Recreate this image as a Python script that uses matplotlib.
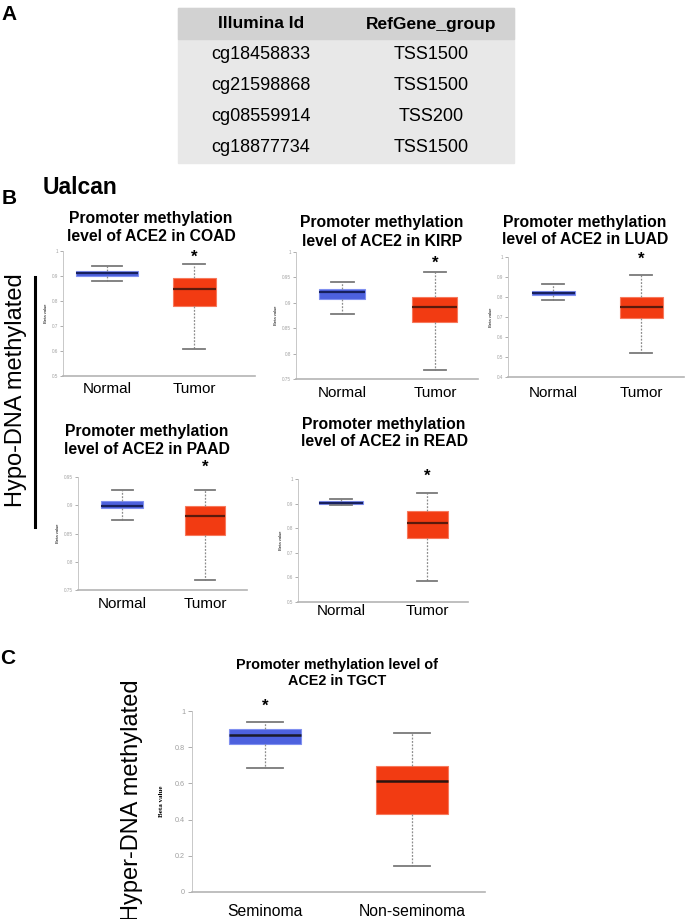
import matplotlib
matplotlib.use("Agg")
import matplotlib.pyplot as plt
from matplotlib.patches import Rectangle
from matplotlib.lines import Line2D

plt.rcParams['font.family'] = ['Liberation Sans', 'DejaVu Sans']

# table (panel A)
table_header = ["Illumina Id", "RefGene_group"]
illumina_ids = ["cg18458833", "cg21598868", "cg08559914", "cg18877734"]
refgene_groups = ["TSS1500", "TSS1500", "TSS200", "TSS1500"]

# panel B, box stats as [whislo, q1, med, q3, whishi]
cancers = ["COAD", "KIRP", "LUAD", "PAAD", "READ"]
normal_stats = [
    [0.880, 0.902, 0.912, 0.922, 0.940],
    [0.878, 0.908, 0.922, 0.928, 0.940],
    [0.786, 0.808, 0.818, 0.830, 0.863],
    [0.874, 0.896, 0.899, 0.908, 0.927],
    [0.893, 0.898, 0.904, 0.910, 0.918],
]
tumor_stats = [
    [0.608, 0.780, 0.847, 0.891, 0.950],
    [0.768, 0.862, 0.891, 0.912, 0.960],
    [0.518, 0.696, 0.752, 0.798, 0.908],
    [0.767, 0.847, 0.881, 0.899, 0.927],
    [0.584, 0.760, 0.823, 0.871, 0.944],
]
star_y = [0.973, 0.978, 0.990, 0.968, 1.012]
y_limits = [(0.5, 1.0), (0.75, 1.0), (0.4, 1.0), (0.75, 0.95), (0.5, 1.0)]
y_ticks = [
    [0.5, 0.6, 0.7, 0.8, 0.9, 1.0],
    [0.75, 0.8, 0.85, 0.9, 0.95, 1.0],
    [0.4, 0.5, 0.6, 0.7, 0.8, 0.9, 1.0],
    [0.75, 0.8, 0.85, 0.9, 0.95],
    [0.5, 0.6, 0.7, 0.8, 0.9, 1.0],
]
b_groups = ["Normal", "Tumor"]

# panel C
tgct_groups = ["Seminoma", "Non-seminoma"]
tgct_stats = [
    [0.687, 0.816, 0.869, 0.898, 0.940],
    [0.145, 0.431, 0.613, 0.698, 0.878],
]
tgct_star_y = 1.028
tgct_ticks = [0, 0.2, 0.4, 0.6, 0.8, 1.0]

W, H = 685, 919
fig = plt.figure(figsize=(W / 100, H / 100), dpi=100)


def rect(l, t, r, b):
    return [l / W, 1 - b / H, (r - l) / W, (b - t) / H]


def fx(x):
    return x / W


def fy(y):
    return 1 - y / H


BLUE, BLUE_E, BLUE_M = '#4d61de', '#8090f0', '#17205e'
RED, RED_E, RED_M = '#f23b12', '#f7795c', '#5a1a0c'

# ---- panel A
fig.text(fx(9), fy(15), "A", fontsize=15, fontweight='bold', ha='center', va='center')
tx0, tx1, ty0, tyh, ty1 = 178, 514, 8, 39, 163
fig.patches.append(Rectangle((fx(tx0), fy(ty1)), fx(tx1 - tx0), (ty1 - ty0) / H,
                             transform=fig.transFigure, color='#e8e8e8', zorder=0))
fig.patches.append(Rectangle((fx(tx0), fy(tyh)), fx(tx1 - tx0), (tyh - ty0) / H,
                             transform=fig.transFigure, color='#d2d2d2', zorder=0))
col_x = [261, 431]
for cx, name in zip(col_x, table_header):
    fig.text(fx(cx), fy(24), name, fontsize=12.5, fontweight='bold', ha='center', va='center')
row_h = (ty1 - tyh) / len(illumina_ids)
for i, (cid, grp) in enumerate(zip(illumina_ids, refgene_groups)):
    yc = tyh + row_h * (i + 0.5)
    fig.text(fx(col_x[0]), fy(yc), cid, fontsize=13, ha='center', va='center')
    fig.text(fx(col_x[1]), fy(yc), grp, fontsize=13, ha='center', va='center')

# ---- panel B
fig.text(fx(9), fy(198), "B", fontsize=15, fontweight='bold', ha='center', va='center')
fig.text(fx(43), fy(187), "Ualcan", fontsize=16.5, fontweight='bold', ha='left', va='center')

# layout in pixels: axes (l, t, r, b), box centres, box widths, title centre, label pad
b_layout = [
    dict(ax=(63, 251, 255, 376), pos=(107, 194), w=(61, 43), title=(151, 227), pad=4.5),
    dict(ax=(296, 252, 478, 379), pos=(342, 435), w=(46, 45), title=(382, 232), pad=5),
    dict(ax=(508, 257, 684, 377), pos=(553, 641), w=(43, 43), title=(585, 231), pad=6.5),
    dict(ax=(78, 477, 247, 590), pos=(122, 205), w=(42, 40), title=(147, 440), pad=5),
    dict(ax=(298, 479, 468, 602), pos=(341, 427), w=(44, 41), title=(384, 433), pad=1.5),
]


def draw_box(ax, stats, lay, colors, tick_fs, star, star_idx, label_fs, med_lw):
    l, t, r, b = lay['ax']
    p1, p2 = lay['pos']
    unit = p2 - p1
    ax.set_xlim(1 - (p1 - l) / unit, 2 + (r - p2) / unit)
    widths = [w / unit for w in lay['w']]
    bstats = []
    for s, lab in zip(stats, lay['labels']):
        bstats.append(dict(whislo=s[0], q1=s[1], med=s[2], q3=s[3], whishi=s[4], label=lab))
    res = ax.bxp(bstats, positions=[1, 2], widths=widths, capwidths=[w * 0.5 for w in widths],
                 patch_artist=True, showfliers=False,
                 whiskerprops=dict(color='#8c8c8c', lw=0.9, linestyle=(0, (1.5, 1.2))),
                 capprops=dict(color='#7a7a7a', lw=1.3))
    for patch, med, (fc, ec, mc) in zip(res['boxes'], res['medians'], colors):
        patch.set_facecolor(fc)
        patch.set_edgecolor(ec)
        patch.set_linewidth(0.8)
        med.set_color(mc)
        med.set_linewidth(med_lw)
    ax.annotate("*", xy=(star_idx, star), ha='center', va='center', fontsize=12,
                fontweight='bold', annotation_clip=False)
    for sp in ['top', 'right']:
        ax.spines[sp].set_visible(False)
    ax.spines['left'].set_color('#c8c8c8')
    ax.spines['left'].set_linewidth(0.7)
    ax.spines['bottom'].set_color('#b4b4b4')
    ax.spines['bottom'].set_linewidth(1.2)
    ax.tick_params(axis='y', labelsize=tick_fs, colors='#a0a0a0', length=2, width=0.6, pad=1.5)
    ax.tick_params(axis='x', length=0, labelsize=label_fs, pad=lay['pad'])
    ax.patch.set_visible(False)


cols = [(BLUE, BLUE_E, BLUE_M), (RED, RED_E, RED_M)]
for i, name in enumerate(cancers):
    lay = dict(b_layout[i])
    lay['labels'] = b_groups
    ax = fig.add_axes(rect(*lay['ax']))
    ax.set_ylim(*y_limits[i])
    ax.set_yticks(y_ticks[i])
    ax.set_yticklabels([f"{v:g}" for v in y_ticks[i]])
    draw_box(ax, [normal_stats[i], tumor_stats[i]], lay, cols, 3.3, star_y[i], 2, 11, 1.6)
    ax.set_ylabel("Beta value", fontsize=3, labelpad=3)
    tx, ty = lay['title']
    fig.text(fx(tx), fy(ty), "Promoter methylation\nlevel of ACE2 in " + name,
             fontsize=11.3, fontweight='bold', ha='center', va='center', linespacing=1.25)

fig.text(fx(16), fy(390), "Hypo-DNA methylated", fontsize=17, rotation=90, ha='center', va='center')
fig.add_artist(Line2D([fx(35), fx(35)], [fy(277), fy(527)], color='black', lw=2.2,
                      transform=fig.transFigure))

# ---- panel C
fig.text(fx(8), fy(659), "C", fontsize=15, fontweight='bold', ha='center', va='center')
fig.text(fx(132), fy(800), "Hyper-DNA methylated", fontsize=17, rotation=90, ha='center', va='center')
lay = dict(ax=(192, 711, 485, 892), pos=(265, 412), w=(72, 72), pad=9, labels=tgct_groups)
ax = fig.add_axes(rect(*lay['ax']))
ax.set_ylim(0, 1)
ax.set_yticks(tgct_ticks)
ax.set_yticklabels([f"{v:g}" for v in tgct_ticks])
draw_box(ax, tgct_stats, lay, [(BLUE, BLUE_E, '#1a1a2a'), (RED, RED_E, '#2a1410')],
         5.2, tgct_star_y, 1, 11.3, 1.8)
ax.tick_params(axis='y', length=3, pad=2)
ax.set_ylabel("Beta value", fontsize=5, fontweight='bold', family='Liberation Serif', labelpad=8)
fig.text(fx(337), fy(673), "Promoter methylation level of\nACE2 in TGCT", fontsize=10.4,
         fontweight='bold', ha='center', va='center', linespacing=1.25)

fig.savefig("out.png", dpi=100)
